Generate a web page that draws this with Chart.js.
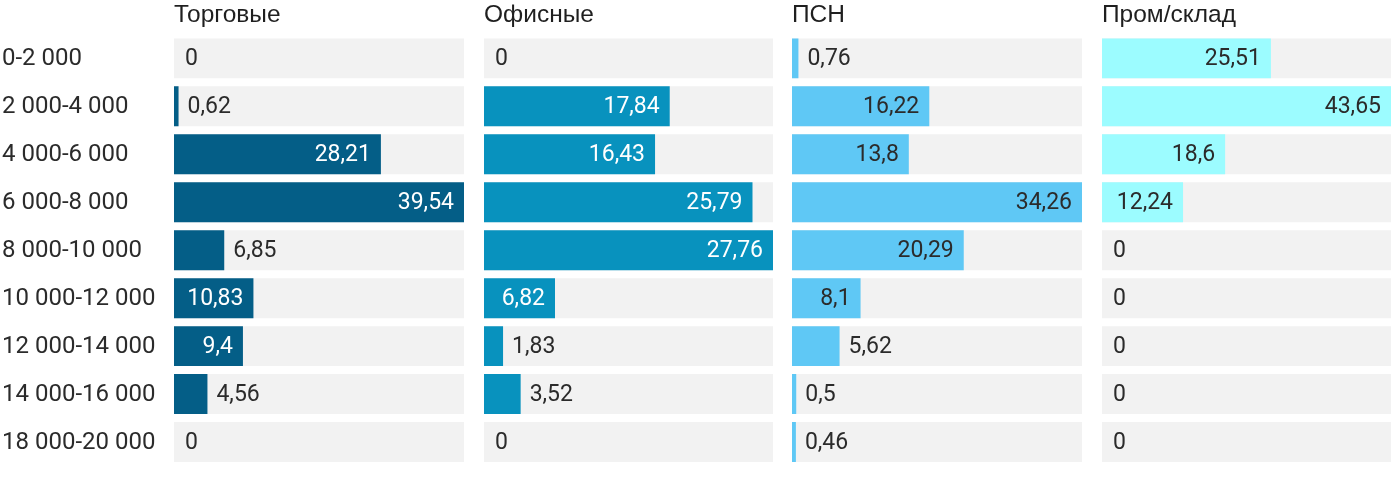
<!DOCTYPE html>
<html>
<head>
<meta charset="utf-8">
<script src="https://cdn.jsdelivr.net/npm/chart.js@4"></script>
<style>
  html, body { margin: 0; padding: 0; background: #fff; }
  .panel { position: absolute; top: 0; height: 478px; }
</style>
</head>
<body>
<div class="panel" style="left:0;width:464px"><canvas id="torgChart"></canvas></div>
<div class="panel" style="left:484px;width:289px"><canvas id="ofisChart"></canvas></div>
<div class="panel" style="left:792px;width:290px"><canvas id="psnChart"></canvas></div>
<div class="panel" style="left:1102px;width:289px"><canvas id="promChart"></canvas></div>
<script>
  // Data
  const categories = ['0-2 000', '2 000-4 000', '4 000-6 000', '6 000-8 000', '8 000-10 000',
    '10 000-12 000', '12 000-14 000', '14 000-16 000', '18 000-20 000'];
  const torgValues = [0, 0.62, 28.21, 39.54, 6.85, 10.83, 9.4, 4.56, 0];
  const ofisValues = [0, 17.84, 16.43, 25.79, 27.76, 6.82, 1.83, 3.52, 0];
  const psnValues = [0.76, 16.22, 13.8, 34.26, 20.29, 8.1, 5.62, 0.5, 0.46];
  const promValues = [25.51, 43.65, 18.6, 12.24, 0, 0, 0, 0, 0];

  const valueFont = '23px Roboto';
  const darkText = '#2b2b2b';

  // draws value labels inside or next to each bar
  const barLabels = {
    id: 'barLabels',
    afterDatasetsDraw(chart, args, opts) {
      const ctx = chart.ctx;
      const meta = chart.getDatasetMeta(1);
      const values = chart.data.datasets[1].data;
      ctx.save();
      ctx.font = valueFont;
      ctx.textBaseline = 'middle';
      meta.data.forEach((bar, i) => {
        const text = String(values[i]).replace('.', ',');
        const w = ctx.measureText(text).width;
        const barW = bar.x - bar.base;
        if (values[i] > 0 && w + 20 <= barW) {
          ctx.fillStyle = opts.insideColor;
          ctx.textAlign = 'right';
          ctx.fillText(text, bar.x - 10, bar.y + 1);
        } else {
          ctx.fillStyle = darkText;
          ctx.textAlign = 'left';
          ctx.fillText(text, bar.x + (values[i] > 0 ? 9 : 11), bar.y + 1);
        }
      });
      ctx.restore();
    }
  };

  function makeConfig(title, values, color, insideColor, showLabels) {
    const max = Math.max(...values);
    return {
      type: 'bar',
      data: {
        labels: categories,
        datasets: [{
          data: values.map(() => max),
          backgroundColor: '#f2f2f2',
          grouped: false,
          order: 2
        }, {
          data: values,
          backgroundColor: color,
          grouped: false,
          order: 1
        }]
      },
      options: {
        indexAxis: 'y',
        responsive: true,
        maintainAspectRatio: false,
        animation: false,
        events: [],
        layout: { padding: { bottom: 12, left: showLabels ? 2 : 0 } },
        datasets: {
          bar: { barPercentage: 1, categoryPercentage: 40 / 48 }
        },
        plugins: {
          legend: { display: false },
          tooltip: { enabled: false },
          title: {
            display: true,
            text: title,
            align: 'start',
            fullSize: false,
            color: '#1f1f1f',
            font: { family: '"Liberation Sans", Arial, sans-serif', size: 24.5, weight: 'normal', lineHeight: 1.2 },
            padding: { top: 1, bottom: 4 }
          },
          barLabels: { insideColor: insideColor }
        },
        scales: {
          x: { display: false, min: 0, max: max },
          y: {
            display: showLabels,
            grid: { display: false },
            border: { display: false },
            ticks: {
              crossAlign: 'far',
              labelOffset: 1,
              color: darkText,
              font: { family: 'Roboto', size: 24 }
            },
            afterFit(scale) {
              if (!showLabels) return;
              scale.width = 172;
              scale.paddingTop = 0;
              scale.paddingBottom = 0;
            }
          }
        }
      },
      plugins: [barLabels]
    };
  }

  new Chart(document.getElementById('torgChart'), makeConfig('Торговые', torgValues, '#045e87', '#ffffff', true));
  new Chart(document.getElementById('ofisChart'), makeConfig('Офисные', ofisValues, '#0892be', '#ffffff', false));
  new Chart(document.getElementById('psnChart'), makeConfig('ПСН', psnValues, '#5fc8f5', darkText, false));
  new Chart(document.getElementById('promChart'), makeConfig('Пром/склад', promValues, '#9cfcff', darkText, false));
</script>
</body>
</html>
